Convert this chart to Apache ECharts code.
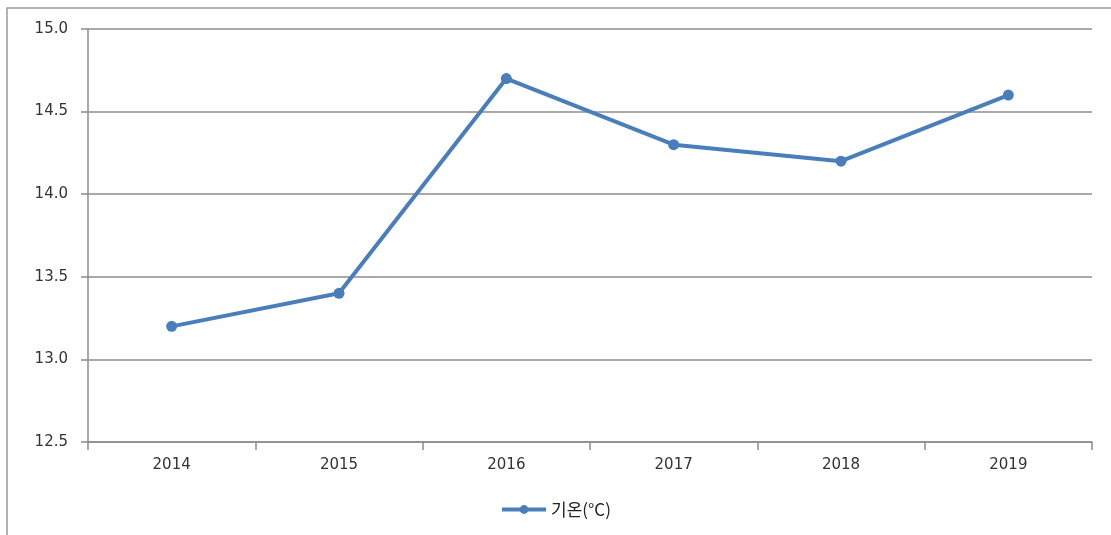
<!DOCTYPE html>
<html>
<head>
<meta charset="utf-8">
<script src="https://cdn.jsdelivr.net/npm/echarts@6/dist/echarts.min.js"></script>
<style>
  html, body { margin: 0; padding: 0; background: #fff; }
  #chart { width: 1111px; height: 535px; }
</style>
</head>
<body>
<div id="chart"></div>
<script>
// Annual mean temperature by year
const years = ['2014', '2015', '2016', '2017', '2018', '2019'];
const temperature = [13.2, 13.4, 14.7, 14.3, 14.2, 14.6];
const seriesName = '기온(°C)';

const chart = echarts.init(document.getElementById('chart'));
const lineColor = '#4a7ebb';
const gridColor = '#8c8c8c';

chart.setOption({
  animation: false,
  textStyle: { fontFamily: '"Noto Sans CJK KR", "DejaVu Sans", sans-serif' },
  graphic: [{
    type: 'rect',
    shape: { x: 7, y: 8, width: 1200, height: 600 },
    style: { fill: 'none', stroke: '#999', lineWidth: 1.5 },
    silent: true
  }],
  grid: { left: 88, right: 19, top: 29, bottom: 93 },
  legend: {
    bottom: 12,
    left: 'center',
    itemWidth: 44,
    itemHeight: 11,
    itemGap: 6,
    lineStyle: { width: 4 },
    textStyle: { fontSize: 17, color: '#222', fontFamily: '"Noto Sans CJK KR", sans-serif' },
    data: [seriesName]
  },
  xAxis: {
    type: 'category',
    data: years,
    boundaryGap: true,
    axisLine: { lineStyle: { color: gridColor, width: 1.5 } },
    axisTick: { show: true, length: 8, inside: false, lineStyle: { color: gridColor, width: 1.5 } },
    axisLabel: { fontSize: 15, color: '#333', margin: 16, fontFamily: '"DejaVu Sans", sans-serif' }
  },
  yAxis: {
    type: 'value',
    min: 12.5,
    max: 15.0,
    interval: 0.5,
    axisLine: { show: true, lineStyle: { color: gridColor, width: 1.5 } },
    axisTick: { show: true, length: 7, lineStyle: { color: gridColor, width: 1.5 } },
    splitLine: { show: true, lineStyle: { color: gridColor, width: 1.5 } },
    axisLabel: {
      fontSize: 15, color: '#333', margin: 20,
      fontFamily: '"DejaVu Sans", sans-serif',
      formatter: v => v.toFixed(1)
    }
  },
  series: [{
    name: seriesName,
    type: 'line',
    data: temperature,
    symbol: 'circle',
    symbolSize: 11,
    itemStyle: { color: lineColor },
    lineStyle: { color: lineColor, width: 4 }
  }]
});
</script>
</body>
</html>
